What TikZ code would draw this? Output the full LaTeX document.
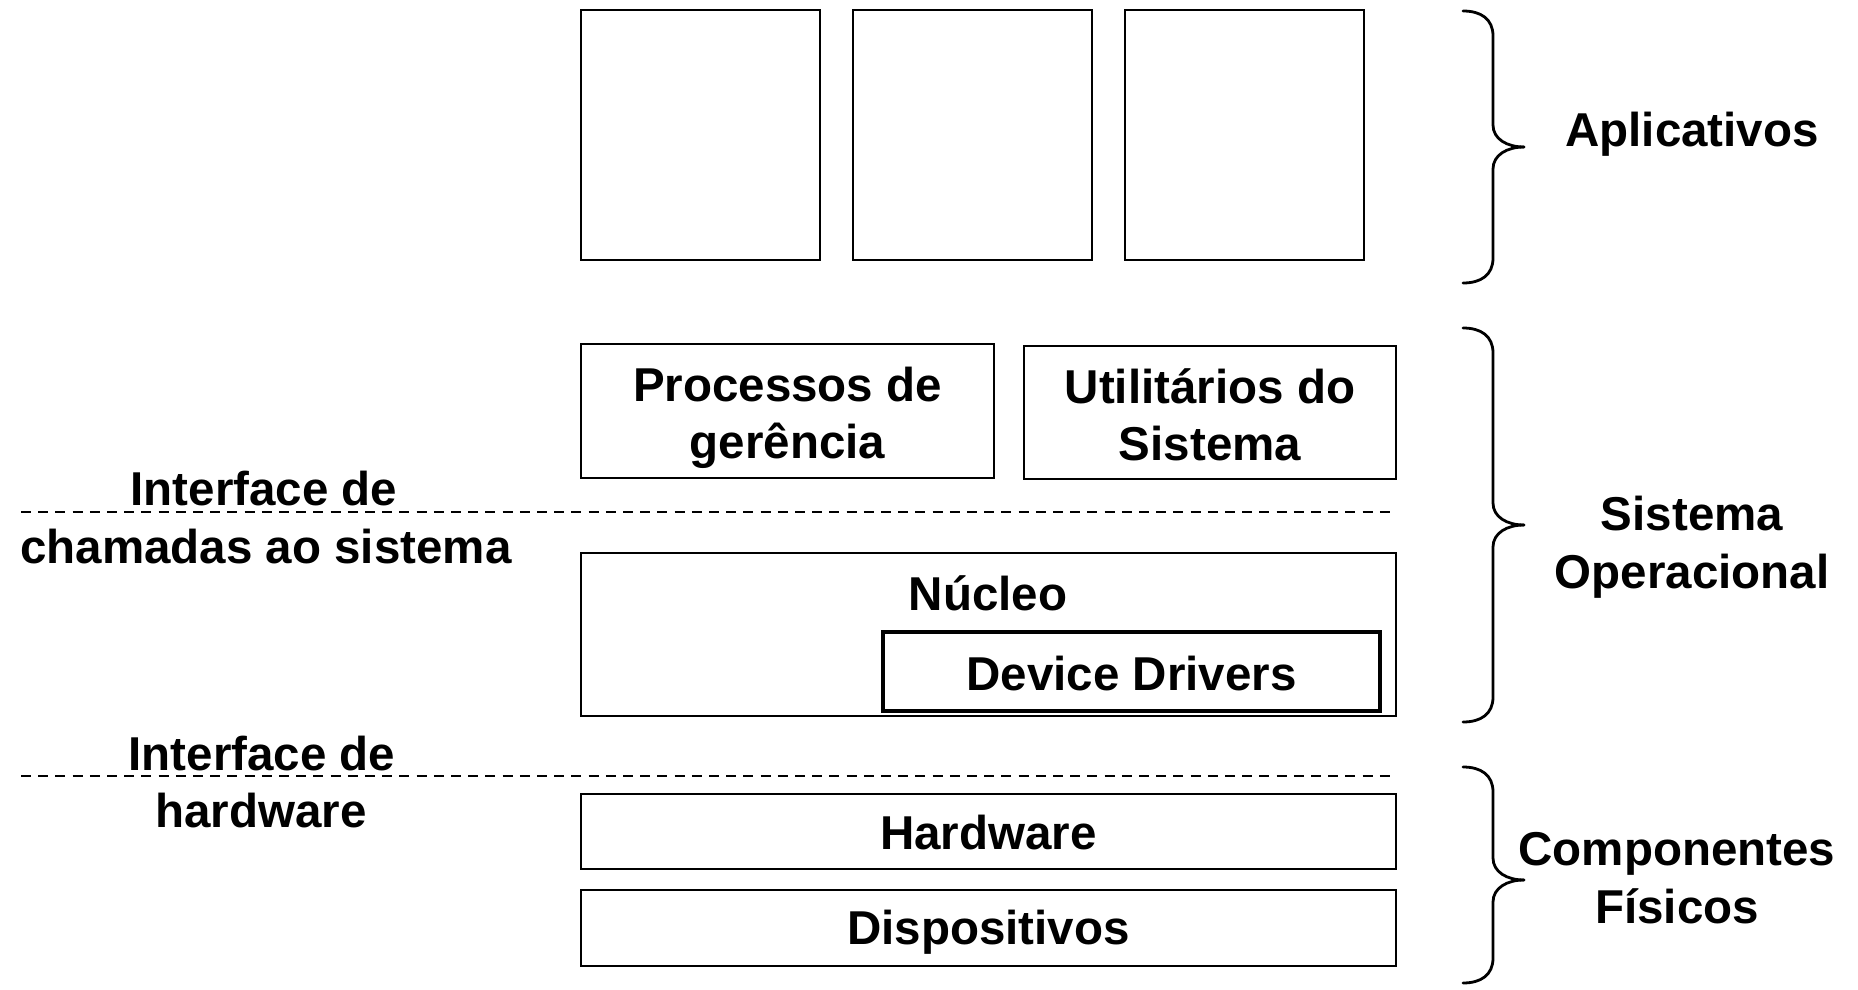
\documentclass[tikz,border=0pt]{standalone}
\usepackage{fontspec}
\setmainfont{Liberation Sans}
\newcommand{\ossbrace}[3]{%
  \draw[bracestroke] (1463,#1) .. controls (1481,#1) and (1493,{#1+8}) .. (1493,{#1+25})
    -- (1493,{#2-22}) .. controls (1493,{#2-8}) and (1507,#2) .. (1524,#2);
  \draw[bracestroke] (1524,#2) .. controls (1507,#2) and (1493,{#2+8}) .. (1493,{#2+22})
    -- (1493,{#3-25}) .. controls (1493,{#3-8}) and (1481,#3) .. (1463,#3);
}
\begin{document}
\begin{tikzpicture}[x=0.5pt,y=-0.5pt,
  box/.style={draw, line width=0.8pt, inner sep=0pt, outer sep=0pt},
  ddbox/.style={draw, line width=1.7pt, inner sep=0pt, outer sep=0pt},
  lbl/.style={font=\fontsize{23.75}{29}\selectfont\bfseries, anchor=base, inner sep=0pt},
  ifline/.style={line width=1.2pt, dash pattern=on 5pt off 3.6pt},
  bracestroke/.style={line width=1.4pt, line cap=round}]
\useasboundingbox (0,0) rectangle (1858,990);

% application boxes
\node[box, minimum width=119.5pt, minimum height=125pt] (app1) at (700.5,135) {};
\node[box, minimum width=119.5pt, minimum height=125pt] (app2) at (972.5,135) {};
\node[box, minimum width=119.5pt, minimum height=125pt] (app3) at (1244.5,135) {};

% OS boxes
\node[box, minimum width=206.5pt, minimum height=67pt] (proc) at (787.5,411) {};
\node[lbl] (proct1) at (787.5,401) {Processos de};
\node[lbl] (proct2) at (787.5,458) {gerência};

\node[box, minimum width=186pt, minimum height=66.5pt] (util) at (1210,412.5) {};
\node[lbl] (utilt1) at (1210,403) {Utilitários do};
\node[lbl] (utilt2) at (1210,460) {Sistema};

\node[box, minimum width=407.5pt, minimum height=81.5pt] (nucleo) at (988.5,634.5) {};
\node[lbl] (nucleot) at (988,610) {Núcleo};

\node[ddbox, minimum width=248.5pt, minimum height=39.5pt] (dd) at (1131.5,671.5) {};
\node[lbl] (ddt) at (1131.5,690) {Device Drivers};

% hardware boxes
\node[box, minimum width=407.5pt, minimum height=37.5pt] (hw) at (988.5,831.5) {};
\node[lbl] (hwt) at (988.5,849) {Hardware};
\node[box, minimum width=407.5pt, minimum height=38pt] (disp) at (988.5,928) {};
\node[lbl] (dispt) at (988.5,944) {Dispositivos};

% interface lines
\coordinate (d1a) at (21,512);
\coordinate (d1b) at (1396,512);
\coordinate (d2a) at (21,776);
\coordinate (d2b) at (1396,776);
\draw[ifline] (d1a) -- (d1b);
\draw[ifline] (d2a) -- (d2b);

\node[lbl] (if1a) at (264,505) {Interface de};
\node[lbl] (if1b) at (266,563) {chamadas ao sistema};
\node[lbl] (if2a) at (262,770) {Interface de};
\node[lbl] (if2b) at (261,827) {hardware};

% braces
\ossbrace{11}{147}{283}
\ossbrace{328}{525}{722}
\ossbrace{767}{880}{983}

\node[lbl] (apl) at (1692,147) {Aplicativos};
\node[lbl] (so1) at (1692,530) {Sistema};
\node[lbl] (so2) at (1692,588) {Operacional};
\node[lbl] (cf1) at (1677,865) {Componentes};
\node[lbl] (cf2) at (1677,923) {Físicos};
\end{tikzpicture}
\end{document}
